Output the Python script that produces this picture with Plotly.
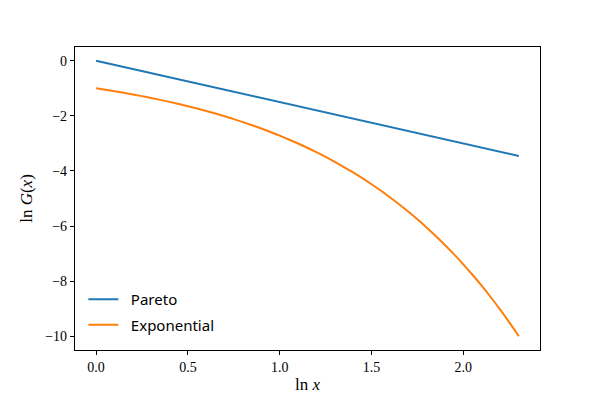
import plotly.graph_objects as go

# ln x values along the horizontal axis
ln_x = [0.0, 0.05, 0.1, 0.15, 0.2, 0.25, 0.3, 0.35, 0.4, 0.45, 0.5, 0.55,
        0.6, 0.65, 0.7, 0.75, 0.8, 0.85, 0.9, 0.95, 1.0, 1.05, 1.1, 1.15,
        1.2, 1.25, 1.3, 1.35, 1.4, 1.45, 1.5, 1.55, 1.6, 1.65, 1.7, 1.75,
        1.8, 1.85, 1.9, 1.95, 2.0, 2.05, 2.1, 2.15, 2.2, 2.25, 2.3026]

# ln G(x)
pareto = [0.0, -0.075, -0.15, -0.225, -0.3, -0.375, -0.45, -0.525, -0.6,
          -0.675, -0.75, -0.825, -0.9, -0.975, -1.05, -1.125, -1.2, -1.275,
          -1.35, -1.425, -1.5, -1.575, -1.65, -1.725, -1.8, -1.875, -1.95,
          -2.025, -2.1, -2.175, -2.25, -2.325, -2.4, -2.475, -2.55, -2.625,
          -2.7, -2.775, -2.85, -2.925, -3.0, -3.075, -3.15, -3.225, -3.3,
          -3.375, -3.454]
exponential = [-1.0, -1.051, -1.105, -1.162, -1.221, -1.284, -1.35, -1.419,
               -1.492, -1.568, -1.649, -1.733, -1.822, -1.916, -2.014, -2.117,
               -2.226, -2.34, -2.46, -2.586, -2.718, -2.858, -3.004, -3.158,
               -3.32, -3.49, -3.669, -3.857, -4.055, -4.263, -4.482, -4.711,
               -4.953, -5.207, -5.474, -5.755, -6.05, -6.36, -6.686, -7.029,
               -7.389, -7.768, -8.166, -8.585, -9.025, -9.488, -10.0]

x_ticks = [0.0, 0.5, 1.0, 1.5, 2.0]
y_ticks = [0, -2, -4, -6, -8, -10]

serif = "Liberation Serif, DejaVu Serif, serif"

fig = go.Figure()
fig.add_trace(go.Scatter(x=ln_x, y=pareto, mode="lines", name="\u2002Pareto",
                         legendgroup="a", line=dict(color="#1f77b4", width=2)))
fig.add_trace(go.Scatter(x=ln_x, y=exponential, mode="lines", name="\u2002Exponential",
                         legendgroup="b", line=dict(color="#ff7f0e", width=2, shape="spline")))

axis_style = dict(showgrid=False, zeroline=False, showline=True, mirror=True,
                  linecolor="black", linewidth=1.2, ticks="outside", ticklen=4,
                  tickcolor="black", automargin=False,
                  tickfont=dict(family=serif, size=14, color="black"))

fig.update_xaxes(range=[-0.115, 2.418], tickvals=x_ticks,
                 ticktext=[f"{v:.1f}" for v in x_ticks],
                 title=dict(text="ln <i>x</i>", font=dict(family=serif, size=17, color="black"),
                            standoff=4),
                 **axis_style)
fig.update_yaxes(range=[-10.5, 0.5], tickvals=y_ticks,
                 ticktext=[str(v).replace("-", "\u2212") for v in y_ticks],
                 title=dict(text="ln <i>G</i>(<i>x</i>)", font=dict(family=serif, size=17, color="black"),
                            standoff=8),
                 **axis_style)

# the page body adds an 8px offset, so the figure is drawn 8px smaller
fig.update_layout(
    width=592, height=392,
    margin=dict(l=67, r=60, t=39, b=50),
    paper_bgcolor="white", plot_bgcolor="white",
    legend=dict(x=0.018, y=0.03, xanchor="left", yanchor="bottom",
                bgcolor="rgba(0,0,0,0)", traceorder="grouped", tracegroupgap=3,
                font=dict(family="Noto Sans", size=15, color="black")),
)

fig.write_html("out.html")
